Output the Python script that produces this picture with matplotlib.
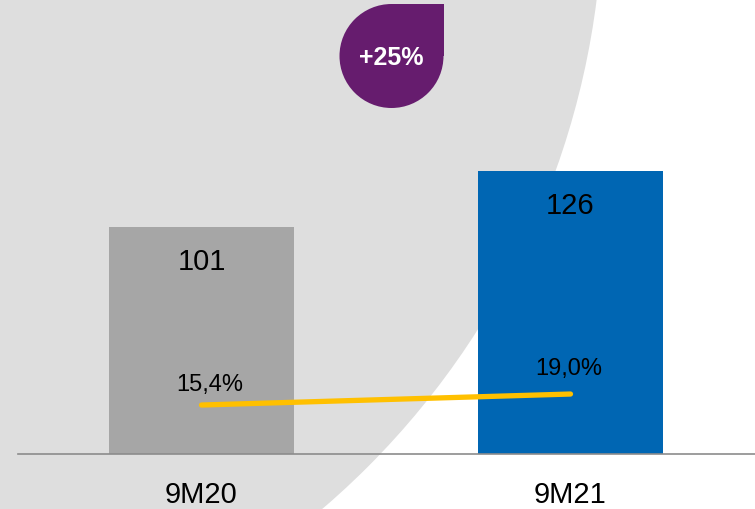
import matplotlib
matplotlib.use("Agg")
import matplotlib.pyplot as plt
from matplotlib.patches import Circle, Rectangle

plt.rcParams['font.family'] = ['Liberation Sans', 'DejaVu Sans']

# ---- data ----
categories = ["9M20", "9M21"]
values = [101, 126]
value_labels = ["101", "126"]
margins = [15.4, 19.0]
margin_labels = ["15,4%", "19,0%"]
growth_label = "+25%"

# ---- styles ----
bar_colors = ["#A6A6A6", "#0066B3"]
bg_grey = "#DEDEDE"
line_color = "#FFC000"
purple = "#661C6E"
axis_color = "#8C8C8C"

W, H = 755, 510
fig = plt.figure(figsize=(W / 100, H / 100), dpi=100)
fig.patch.set_facecolor("white")

# background decoration axes (pixel coordinates)
bg = fig.add_axes([0, 0, 1, 1])
bg.set_xlim(0, W)
bg.set_ylim(H, 0)
bg.axis("off")
bg.add_patch(Circle((-200, -100), 803, facecolor=bg_grey, edgecolor="none"))
# drop-shaped badge
bcx, bcy, br = 391.5, 57, 52
bg.add_patch(Circle((bcx, bcy), br, facecolor=purple, edgecolor="none"))
bg.add_patch(Rectangle((bcx, bcy - br), br, br, facecolor=purple, edgecolor="none"))
bg.text(bcx, bcy + 1, growth_label, color="white", fontsize=18, fontweight="bold",
        ha="center", va="center")

# main axes
left = 18 / W
bottom = 55 / H
ax = fig.add_axes([left, bottom, (W - 18) / W, 1 - bottom])
ax.patch.set_alpha(0)
x = list(range(len(categories)))
ax.bar(x, values, width=0.5, color=bar_colors, zorder=2)
ax.set_xlim(-183.5 / 369, (737 - 183.5) / 369)
ax.set_ylim(0, 455 / 2.2475)
for s in ["top", "right", "left"]:
    ax.spines[s].set_visible(False)
ax.spines["bottom"].set_color(axis_color)
ax.spines["bottom"].set_linewidth(1.2)
ax.set_yticks([])
ax.set_xticks(x)
ax.set_xticklabels(categories, fontsize=21)
ax.tick_params(axis="x", length=0, pad=19, colors="black")

for xi, v, lab in zip(x, values, value_labels):
    ax.annotate(lab, (xi, v), xytext=(0, -34 * 0.72), textcoords="offset points",
                ha="center", va="center", fontsize=21, color="black", zorder=3)

# secondary axis for margins
ax2 = ax.twinx()
ax2.set_ylim(-0.63, 148.3)
ax2.axis("off")
ax2.plot(x, margins, color=line_color, linewidth=3.8, solid_capstyle="round", zorder=4)
offsets = [(8, 21), (-2, 26)]
for xi, m, lab, off in zip(x, margins, margin_labels, offsets):
    ax2.annotate(lab, (xi, m), xytext=(off[0] * 0.72, off[1] * 0.72),
                 textcoords="offset points", ha="center", va="center",
                 fontsize=17, color="black")

fig.savefig("out.png", dpi=100)
